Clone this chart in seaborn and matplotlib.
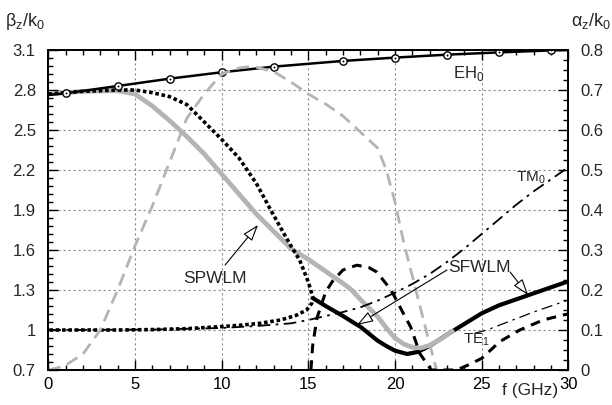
import numpy as np
import pandas as pd
import matplotlib
matplotlib.use('Agg')
import matplotlib.pyplot as plt
import seaborn as sns
from matplotlib.ticker import MultipleLocator, FixedLocator, FixedFormatter

sns.set_theme(style='ticks')
plt.rcParams['font.family'] = ['Liberation Sans', 'DejaVu Sans']
plt.rcParams['mathtext.fontset'] = 'custom'
plt.rcParams['mathtext.rm'] = 'Liberation Sans'
plt.rcParams['font.size'] = 12

# ---------------- data ----------------
# EH0 mode, beta/k0 (left axis)
eh0_f = [0, 1, 4, 7, 10, 13, 17, 20, 23, 26, 29, 30]
eh0_b = [2.763, 2.775, 2.83, 2.885, 2.933, 2.975, 3.018, 3.043, 3.065, 3.082, 3.097, 3.10]

# SPWLM, beta/k0 (grey thick solid, left axis)
spw_f = [0, 2, 4, 5, 6, 7, 8, 9, 10, 11, 12, 13, 14, 15, 16, 17, 17.5, 18, 19, 19.6,
         20, 20.5, 21, 21.5, 22, 22.8, 23.4]
spw_b = [2.77, 2.79, 2.795, 2.77, 2.68, 2.57, 2.45, 2.32, 2.17, 2.02, 1.87, 1.74, 1.61,
         1.53, 1.44, 1.35, 1.30, 1.23, 1.10, 1.00, 0.94, 0.895, 0.87, 0.865, 0.885, 0.945, 1.0]

# SPWLM, alpha/k0 (grey dashed, right axis)
spa_f = [0, 0.5, 1, 2, 3, 4, 5, 6, 7, 8, 9, 10, 11, 11.5, 12, 13, 14, 15, 16, 17, 18,
         19, 19.5, 20, 20.5, 21, 21.5, 22, 22.4]
spa_a = [0.0, 0.005, 0.012, 0.04, 0.10, 0.20, 0.31, 0.41, 0.52, 0.63, 0.69, 0.74, 0.755,
         0.758, 0.757, 0.746, 0.72, 0.69, 0.665, 0.635, 0.595, 0.555, 0.50, 0.42, 0.32,
         0.235, 0.15, 0.065, 0.0]

# SFWLM, beta/k0 (black thick solid, left axis)
sfw_f = [15.25, 16, 17, 17.8, 18, 19, 19.5, 20, 20.7, 21.3, 22, 23, 24, 25, 26, 27, 28, 29, 30]
sfw_b = [1.24, 1.18, 1.105, 1.04, 1.025, 0.92, 0.88, 0.845, 0.82, 0.835, 0.88, 0.965, 1.045,
         1.125, 1.185, 1.23, 1.275, 1.32, 1.365]

# folded dotted curve, beta/k0 (black dotted, left axis) - upper branch then lower branch
dot_f = [0, 2, 4, 5, 6, 7, 8, 9, 10, 11, 12, 13, 14, 14.5, 15, 15.25,
         15.2, 14.9, 14.3, 13.4, 12.2, 11, 9.9, 8, 6, 4, 0]
dot_b = [2.77, 2.79, 2.80, 2.80, 2.78, 2.75, 2.69, 2.56, 2.43, 2.29, 2.10, 1.86, 1.63,
         1.525, 1.36, 1.25,
         1.20, 1.15, 1.11, 1.075, 1.05, 1.035, 1.025, 1.01, 1.003, 1.0, 1.0]

# TM0, beta/k0 (black dash-dot, left axis)
tm0_f = [0, 6, 10, 12, 14, 15, 16, 17, 18, 19, 20, 21, 22, 23, 24, 25, 26, 27, 28, 29, 30]
tm0_b = [1.0, 1.003, 1.015, 1.03, 1.05, 1.075, 1.105, 1.135, 1.17, 1.22, 1.28, 1.345, 1.42,
         1.51, 1.61, 1.72, 1.83, 1.94, 2.04, 2.13, 2.22]

# TE1, beta/k0 (thin dash-dot, left axis)
te1_f = [24.6, 25.3, 26, 27, 28, 29, 30]
te1_b = [0.975, 1.0, 1.035, 1.085, 1.135, 1.18, 1.225]

# hump + TE1 alpha/k0 (black thick dashed, right axis)
hum_f = [15.15, 15.25, 15.5, 16.0, 16.4, 17.0, 17.8, 18.5, 18.95, 19.5, 19.9, 20.5, 20.9,
         21.45, 22.1, 23.55, 24.2, 25.0, 26.05, 27.2, 28.55, 29.7, 30]
hum_a = [0.0, 0.06, 0.13, 0.195, 0.222, 0.25, 0.262, 0.256, 0.245, 0.215, 0.19, 0.14, 0.108,
         0.04, 0.0, 0.0, 0.012, 0.029, 0.071, 0.10, 0.125, 0.1375, 0.14]

beta_ticks = [0.7, 1.0, 1.3, 1.6, 1.9, 2.2, 2.5, 2.8, 3.1]
beta_labels = ['0.7', '1', '1.3', '1.6', '1.9', '2.2', '2.5', '2.8', '3.1']
alpha_ticks = [0, 0.1, 0.2, 0.3, 0.4, 0.5, 0.6, 0.7, 0.8]
alpha_labels = ['0', '0.1', '0.2', '0.3', '0.4', '0.5', '0.6', '0.7', '0.8']
f_ticks = [0, 5, 10, 15, 20, 25, 30]

# ---------------- figure ----------------
fig = plt.figure(figsize=(6.12, 4.05), dpi=100)
ax = fig.add_axes([48.3 / 612, 1 - 370 / 405, 520 / 612, 320 / 405])
ax.set_facecolor('white')
ax2 = ax.twinx()

def line(a, x, y, **kw):
    sns.lineplot(x=x, y=y, ax=a, sort=False, estimator=None, errorbar=None, **kw)

# left-axis curves
line(ax, sfw_f, sfw_b, color='black', lw=3.0, solid_capstyle='butt')
line(ax, spw_f, spw_b, color='#b4b4b4', lw=3.4, solid_capstyle='butt')
line(ax, tm0_f, tm0_b, color='black', lw=1.3, linestyle=(0, (7, 3, 1.5, 3)))
line(ax, te1_f, te1_b, color='black', lw=0.9, linestyle=(0, (9, 4, 2, 4)))
line(ax, dot_f, dot_b, color='black', lw=2.6, linestyle=(0, (1, 0.75)),
     dash_capstyle='butt')
line(ax, eh0_f, eh0_b, color='black', lw=1.8)
sns.scatterplot(x=eh0_f[1:-1], y=eh0_b[1:-1], ax=ax, marker='o', s=28,
                facecolor='white', edgecolor='black', linewidth=1.0, zorder=5)
sns.scatterplot(x=eh0_f[1:-1], y=eh0_b[1:-1], ax=ax, marker='o', s=2,
                color='black', linewidth=0, zorder=6)

# right-axis curves
line(ax2, spa_f, spa_a, color='#b4b4b4', lw=2.0, linestyle=(0, (4.5, 2.5)))
line(ax2, hum_f, hum_a, color='black', lw=2.2, linestyle=(0, (3.2, 2.3)))

# axes setup
ax.set_xlim(0, 30)
ax.set_ylim(0.7, 3.1)
ax2.set_ylim(0, 0.8)
ax.set_xlabel('')
ax.set_ylabel('')
ax2.set_ylabel('')

ax.xaxis.set_major_locator(FixedLocator(f_ticks))
ax.xaxis.set_minor_locator(MultipleLocator(1))
ax.yaxis.set_major_locator(FixedLocator(beta_ticks))
ax.yaxis.set_major_formatter(FixedFormatter(beta_labels))
ax.yaxis.set_minor_locator(FixedLocator(list(np.arange(0.7, 3.101, 0.06))))
ax2.yaxis.set_major_locator(FixedLocator(alpha_ticks))
ax2.yaxis.set_major_formatter(FixedFormatter(alpha_labels))
ax2.yaxis.set_minor_locator(MultipleLocator(0.025))

ax.grid(True, which='major', color='#8a8a8a', lw=0.8, linestyle=(0, (2, 2.5)))
ax2.grid(False)

ax.tick_params(axis='x', which='both', direction='in', top=True, bottom=True,
               colors='black', labelsize=12, pad=5)
ax.tick_params(axis='y', which='both', direction='in', left=True, right=False,
               labelsize=12, pad=9)
ax2.tick_params(axis='y', which='both', direction='in', right=True, left=False,
                labelsize=12, pad=9)
for a in (ax, ax2):
    a.tick_params(which='major', length=7, width=1.0, color='black')
    a.tick_params(which='minor', length=3.5, width=1.0, color='black')
    for s in a.spines.values():
        s.set_color('black')
        s.set_linewidth(1.3)

# annotations
T = ax.transData
ax2.text(23.35, 2.89, r'EH$_\mathregular{0}$', transform=T, ha='left', va='baseline', fontsize=12)
ax2.text(27.0, 2.112, r'TM$_\mathregular{0}$', transform=T, ha='left', va='baseline', fontsize=11)
ax2.text(23.9, 0.90, r'TE$_\mathregular{1}$', transform=T, ha='left', va='baseline', fontsize=11)
ax2.text(7.77, 1.352, 'SPWLM', transform=T, ha='left', va='baseline', fontsize=12.5)
ax2.text(23.06, 1.4375, 'SFWLM', transform=T, ha='left', va='baseline', fontsize=12.5)

arrow = dict(arrowstyle='-|>,head_length=0.5,head_width=0.17', fc='white', ec='black',
             lw=0.8, shrinkA=0, shrinkB=0, mutation_scale=20)
ax2.annotate('', xy=(12.1, 1.7875), xytext=(10.2, 1.4875), xycoords=T, textcoords=T,
             arrowprops=arrow)
ax2.annotate('', xy=(17.81, 1.0375), xytext=(23.0, 1.45), xycoords=T, textcoords=T,
             arrowprops=arrow)
ax2.annotate('', xy=(27.68, 1.2625), xytext=(26.64, 1.435), xycoords=T, textcoords=T,
             arrowprops=arrow)

fig.text(5 / 612, 1 - 21 / 405, r'β$_\mathregular{z}$/k$_\mathregular{0}$',
         ha='left', va='center', fontsize=13)
fig.text(611 / 612, 1 - 21 / 405, r'α$_\mathregular{z}$/k$_\mathregular{0}$',
         ha='right', va='center', fontsize=13)
fig.text(530 / 612, 1 - 391 / 405, 'f (GHz)', ha='center', va='center', fontsize=12.5)

fig.savefig('out.png', dpi=100)
